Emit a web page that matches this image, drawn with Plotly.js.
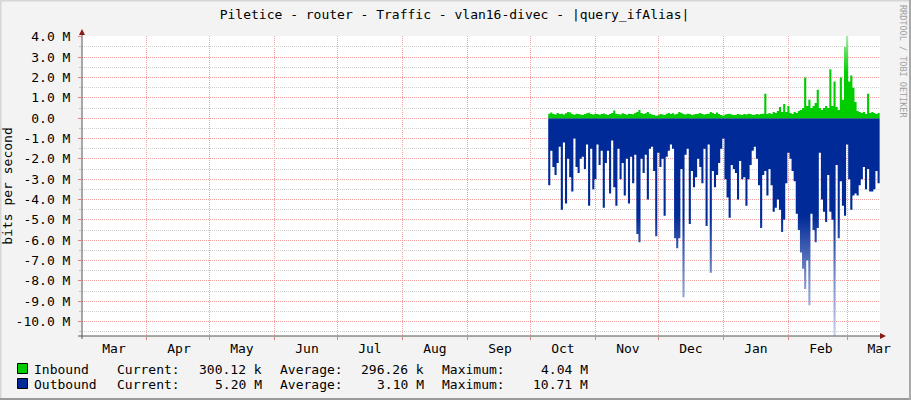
<!DOCTYPE html>
<html><head><meta charset="utf-8">
<script src="https://cdn.plot.ly/plotly-3.0.1.min.js"></script>
<style>html,body{margin:0;padding:0;background:#F3F3F3;} #chart{width:911px;height:400px;}</style>
</head><body><div id="chart"></div>
<script>
const chartTitle = 'Piletice - router - Traffic - vlan16-divec - |query_ifAlias|';
const yAxisTitle = 'bits per second';
const watermark = 'RRDTOOL / TOBI OETIKER';
const seriesStart = '2013-10-09T12:00:00Z';   // first daily sample
const xRange = ['2013-03-01 06:00', '2014-03-16 16:00'];

// daily inbound traffic, Mbit/s
const inboundM = [
 0.22,0.28,0.20,0.18,0.25,0.20,0.22,0.18,0.24,0.30,
 0.28,0.20,0.17,0.22,0.20,0.18,0.15,0.20,0.24,0.27,
 0.20,0.18,0.22,0.20,0.17,0.20,0.23,0.19,0.16,0.20,
 0.26,0.38,0.22,0.20,0.18,0.24,0.20,0.17,0.22,0.20,
 0.19,0.25,0.30,0.40,0.25,0.20,0.24,0.30,0.22,0.18,
 0.15,0.12,0.14,0.20,0.18,0.15,0.22,0.25,0.20,0.24,
 0.18,0.22,0.30,0.25,0.20,0.18,0.22,0.20,0.15,0.18,
 0.20,0.22,0.25,0.20,0.18,0.20,0.22,0.30,0.25,0.20,
 0.28,0.20,0.15,0.12,0.18,0.20,0.22,0.18,0.15,0.17,
 0.20,0.18,0.15,0.20,0.18,0.22,0.20,0.15,0.17,0.20,
 0.18,0.20,0.22,1.20,0.20,0.25,0.20,0.30,0.25,0.35,
 0.55,0.30,0.70,0.30,0.60,0.25,0.20,0.30,0.25,0.35,
 0.40,0.50,2.00,0.60,0.90,0.50,0.60,0.75,1.40,0.50,
 0.40,0.50,0.60,0.50,2.40,0.60,1.80,0.55,0.40,2.00,
 0.90,3.50,4.04,1.80,2.10,1.50,0.80,0.35,0.30,0.25,
 0.30,0.20,1.20,0.25,0.30,0.25,0.20,0.25,0.30
];
// daily outbound traffic, Mbit/s (drawn below zero)
const outboundM = [
 3.3,1.6,2.4,2.8,2.2,1.4,4.5,1.2,4.2,2.0,
 2.9,3.6,1.0,2.4,2.7,2.0,1.9,2.5,1.3,4.3,
 1.5,3.5,3.0,1.3,2.3,1.6,4.4,2.2,1.6,3.7,
 1.1,3.4,4.3,1.5,3.0,2.2,3.8,2.0,4.2,1.9,
 3.2,1.8,5.7,6.1,2.0,2.7,1.8,4.0,1.5,1.4,
 2.6,5.8,1.7,2.4,2.0,4.8,1.9,1.6,1.3,1.5,
 5.9,6.4,5.9,2.5,8.8,1.8,1.5,5.2,2.6,3.4,
 2.9,2.0,2.4,3.2,1.5,5.3,1.3,7.6,2.6,3.4,
 2.8,2.2,1.5,1.0,3.0,3.9,4.9,2.3,2.5,2.7,
 4.0,2.1,3.0,2.9,4.3,3.0,2.3,1.6,1.4,2.0,
 3.3,5.4,2.8,2.6,3.8,2.5,3.3,4.6,4.4,4.0,
 4.5,5.6,5.0,3.2,1.7,2.0,2.6,3.1,4.7,5.5,
 6.6,7.4,8.4,7.0,9.2,4.7,5.5,6.1,5.4,1.7,
 4.0,4.6,5.1,2.8,4.6,5.0,10.71,2.3,5.9,3.1,
 4.3,4.8,1.3,3.0,4.5,3.8,3.7,3.8,3.3,3.0,
 2.4,3.5,2.5,3.6,3.6,3.5,2.6,3.2,2.2
];

const monthLabels = ['Mar','Apr','May','Jun','Jul','Aug','Sep','Oct','Nov','Dec','Jan','Feb','Mar'];
const monthLabelDates = ['2013-03-16 12:00','2013-04-16 12:00','2013-05-16 12:00','2013-06-16 12:00',
 '2013-07-16 12:00','2013-08-16 12:00','2013-09-16 12:00','2013-10-16 12:00','2013-11-16 12:00',
 '2013-12-16 12:00','2014-01-16 12:00','2014-02-16 12:00','2014-03-16 06:00'];
const yTickValsM = [4,3,2,1,0,-1,-2,-3,-4,-5,-6,-7,-8,-9,-10];
const yTickText = ['4.0 M','3.0 M','2.0 M','1.0 M','0.0\u00a0\u00a0','-1.0 M','-2.0 M','-3.0 M','-4.0 M',
 '-5.0 M','-6.0 M','-7.0 M','-8.0 M','-9.0 M','-10.0 M'];
const yMinorValsM = [3.5,2.5,1.5,0.5,-0.5,-1.5,-2.5,-3.5,-4.5,-5.5,-6.5,-7.5,-8.5,-9.5,-10.5];
const yRangeM = [-10.71, 4.04];

const legendNames = ['Inbound','Outbound'];
const legendColors = ['#00CC00','#002A97'];
const legendCurrent = ['300.12 k','5.20 M'];
const legendAverage = ['296.26 k','3.10 M'];
const legendMaximum = ['4.04 M','10.71 M'];

// ---- build ----
const t0 = Date.parse(seriesStart);
const dates = inboundM.map((_, i) => new Date(t0 + i * 86400000).toISOString().slice(0, 16).replace('T', ' '));
const M = 1e6;

const L = 82, R = 31, T = 36, B = 64, W = 911, H = 400;
const pw = W - L - R, ph = H - T - B;
const px = x => (x - L) / pw;
const py = y => (H - B - y) / ph;

const traces = [
 {
  x: dates, y: outboundM.map(v => -v * M), type: 'scatter', mode: 'lines',
  line: {shape: 'hv', width: 0, color: legendColors[1]}, fill: 'tozeroy', fillcolor: legendColors[1],
  fillgradient: {type: 'vertical', start: yRangeM[0] * M, stop: 0,
    colorscale: [[0, '#C8D0EA'], [0.25, '#7F93CC'], [0.55, '#002A97'], [1, '#002A97']]},
  hoverinfo: 'skip', showlegend: false
 },
 {
  x: dates, y: inboundM.map(v => v * M), type: 'scatter', mode: 'lines',
  line: {shape: 'hv', width: 0, color: legendColors[0]}, fill: 'tozeroy', fillcolor: legendColors[0],
  fillgradient: {type: 'vertical', start: 0, stop: yRangeM[1] * M,
    colorscale: [[0, '#00CC00'], [0.55, '#00CC00'], [1, '#A6EBA6']]},
  hoverinfo: 'skip', showlegend: false
 }
];

const font = {family: 'DejaVu Sans Mono', size: 13, color: '#000'};
const ann = [];
const shapes = [];
const rowsY = [369, 384];
legendNames.forEach((name, r) => {
  const y = py(rowsY[r]);
  const add = (text, x, anchor) => ann.push({text, x: px(x), y, xref: 'paper', yref: 'paper',
    xanchor: anchor, yanchor: 'middle', showarrow: false, font, borderpad: 0, borderwidth: 0});
  add(name, 34, 'left');
  add('Current:', 117, 'left');
  add(legendCurrent[r], 262, 'right');
  add('Average:', 280, 'left');
  add(legendAverage[r], 424, 'right');
  add('Maximum:', 442, 'left');
  add(legendMaximum[r], 588, 'right');
  shapes.push({type: 'rect', xref: 'paper', yref: 'paper', x0: px(17.5), x1: px(27.5),
    y0: py(rowsY[r] - 5.5), y1: py(rowsY[r] + 4.5), fillcolor: legendColors[r],
    line: {color: '#000', width: 1}});
});
ann.push({text: watermark, x: px(903), y: py(61), xref: 'paper', yref: 'paper', textangle: 90,
  xanchor: 'center', yanchor: 'middle',
  showarrow: false, font: {family: 'DejaVu Sans Mono', size: 8.5, color: '#A0A0A0'}, borderpad: 0});

// axis lines with arrows
const axisCol = '#555';
shapes.push({type: 'line', xref: 'paper', yref: 'paper', x0: 0, x1: 0, y0: py(339), y1: py(33),
  line: {color: axisCol, width: 1}});
shapes.push({type: 'line', xref: 'paper', yref: 'paper', x0: px(78), x1: px(883), y0: 0, y1: 0,
  line: {color: axisCol, width: 1}});
shapes.push({type: 'path', xref: 'paper', yref: 'paper',
  path: `M ${px(79)} ${py(35)} L ${px(85)} ${py(35)} L ${px(82)} ${py(29)} Z`,
  fillcolor: '#8B1A1A', line: {width: 0}});
shapes.push({type: 'path', xref: 'paper', yref: 'paper',
  path: `M ${px(880)} ${py(333)} L ${px(880)} ${py(339)} L ${px(886)} ${py(336)} Z`,
  fillcolor: '#8B1A1A', line: {width: 0}});
// outer frame
shapes.push({type: 'line', xref: 'paper', yref: 'paper', x0: px(0), x1: px(911), y0: py(0.5), y1: py(0.5), line: {color: '#D6D6D6', width: 2}});
shapes.push({type: 'line', xref: 'paper', yref: 'paper', x0: px(0.5), x1: px(0.5), y0: py(0), y1: py(400), line: {color: '#D6D6D6', width: 2}});
shapes.push({type: 'line', xref: 'paper', yref: 'paper', x0: px(0), x1: px(911), y0: py(399), y1: py(399), line: {color: '#9A9A9A', width: 2}});
shapes.push({type: 'line', xref: 'paper', yref: 'paper', x0: px(910), x1: px(910), y0: py(0), y1: py(400), line: {color: '#A8A8A8', width: 2}});

const redGrid = '#F2A0A0', grayGrid = '#D0D0D0';
const layout = {
  width: W, height: H,
  paper_bgcolor: '#F3F3F3', plot_bgcolor: '#FFFFFF',
  margin: {l: L, r: R, t: T, b: B, pad: 0},
  font,
  showlegend: false,
  title: {text: chartTitle, x: 454.5 / W, xref: 'container', xanchor: 'center',
    y: 1 - 14 / H, yref: 'container', yanchor: 'middle', font},
  xaxis: {
    type: 'date', range: xRange, tickmode: 'array', tickvals: monthLabelDates, ticktext: monthLabels,
    showgrid: false, zeroline: false, showline: false, ticks: '', ticklabelstandoff: 3,
    minor: {dtick: 'M1', tick0: '2013-03-01', showgrid: true, gridcolor: redGrid, griddash: '1px,1px',
      gridwidth: 1, ticks: 'outside', ticklen: 3, tickcolor: '#E08080'},
    fixedrange: true
  },
  yaxis: {
    range: yRangeM.map(v => v * M), tickmode: 'array', tickvals: yTickValsM.map(v => v * M), ticktext: yTickText,
    showgrid: true, gridcolor: redGrid, griddash: '1px,1px', gridwidth: 1, zeroline: false, showline: false,
    ticks: 'outside', ticklen: 3, tickcolor: '#E08080', ticklabelstandoff: 5,
    minor: {tickmode: 'array', tickvals: yMinorValsM.map(v => v * M), showgrid: true, gridcolor: grayGrid,
      griddash: '1px,1px', gridwidth: 1, ticks: 'outside', ticklen: 2, tickcolor: '#C0C0C0'},
    title: {text: yAxisTitle, standoff: 4, font},
    fixedrange: true
  },
  annotations: ann,
  shapes
};
Plotly.newPlot('chart', traces, layout, {staticPlot: true, displayModeBar: false});
</script>
</body></html>
